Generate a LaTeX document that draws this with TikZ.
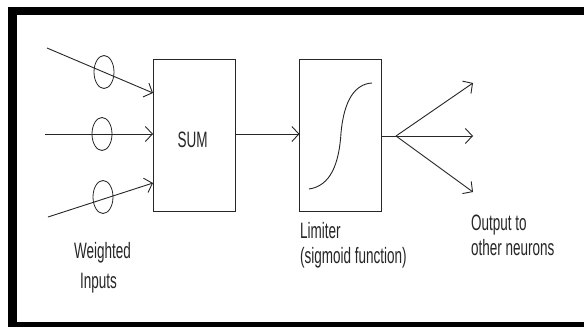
\documentclass[tikz,border=0pt]{standalone}
\usepackage{fontspec}
\setmainfont{Liberation Sans}
\usetikzlibrary{arrows.meta,shapes.geometric}
\newcommand{\talltext}[1]{\scalebox{1}[1.65]{\fontsize{13.5}{16}\selectfont #1}}
\begin{document}
\begin{tikzpicture}[x=1pt,y=-1pt,
  conn/.style={line width=0.9pt, draw=black!85, -{Straight Barb[length=7pt,width=15pt,line width=0.9pt]}},
  plain/.style={line width=0.9pt, draw=black!85},
  blockbox/.style={draw=black!85, line width=0.9pt, minimum width=82pt, minimum height=152pt, inner sep=0pt},
  weight/.style={ellipse, draw=black!85, line width=0.8pt, minimum width=20pt, minimum height=33pt, inner sep=0pt},
  lbl/.style={inner sep=0pt, anchor=base west, text=black!85}
]
\useasboundingbox (0,0) rectangle (584,327);
\fill[white] (0,0) rectangle (584,327);
% frame
\fill[black] (8,7) rectangle (584,15);
\fill[black] (8,7) rectangle (17,327);
\fill[black] (8,322) rectangle (584,327);

% blocks
\node[blockbox] (sum) at (194,135) {};
\node[lbl, anchor=base] (sumt) at (192.5,147) {\talltext{SUM}};
\node[blockbox] (lim) at (340.5,135) {};

% weights
\node[weight] (w1) at (104,72) {};
\node[weight] (w2) at (102,134) {};
\node[weight] (w3) at (103,197) {};

% input ends
\coordinate (i1) at (47,48);
\coordinate (i2) at (45,134);
\coordinate (i3) at (48,217);
\coordinate (e1) at (153,93);
\coordinate (e2) at (153,134);
\coordinate (e3) at (153,183);
\draw[conn] (i1) -- (e1);
\draw[conn] (i2) -- (e2);
\draw[conn] (i3) -- (e3);

% sum to limiter
\coordinate (s2) at (235,134);
\coordinate (l2) at (299.5,134);
\draw[conn] (s2) -- (l2);

% sigmoid
\draw[plain] (309,189) .. controls (330,186) and (339,165) .. (341,133)
  .. controls (344,100) and (355,84) .. (372,83);

% outputs
\coordinate (lo) at (381.5,136);
\coordinate (f) at (396,136);
\coordinate (o1) at (473,83);
\coordinate (o2) at (473,136);
\coordinate (o3) at (473,192);
\draw[plain] (lo) -- (f);
\draw[conn] (f) -- (o1);
\draw[conn] (f) -- (o2);
\draw[conn] (f) -- (o3);

% labels
\node[lbl] (t1) at (74,258) {\talltext{Weighted}};
\node[lbl] (t2) at (80,288) {\talltext{Inputs}};
\node[lbl] (t3) at (300,238) {\talltext{Limiter}};
\node[lbl] (t4) at (300,263) {\talltext{(sigmoid function)}};
\node[lbl] (t5) at (471,230) {\talltext{Output to}};
\node[lbl] (t6) at (471,255) {\talltext{other neurons}};
\end{tikzpicture}
\end{document}
